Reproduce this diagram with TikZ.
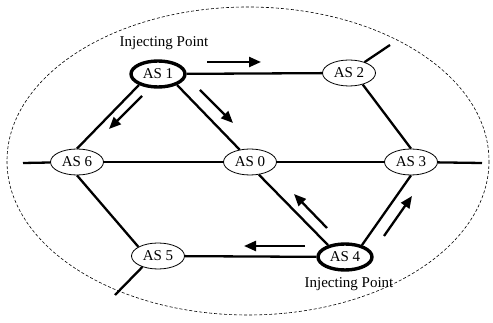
\documentclass[tikz,border=0pt]{standalone}
\usepackage{fontspec}
\setmainfont{Liberation Serif}
\usetikzlibrary{shapes.geometric,arrows.meta}

\begin{document}
\begin{tikzpicture}[x=1pt,y=-1pt,
  asnode/.style={ellipse,draw,line width=0.8pt,minimum width=53pt,minimum height=26pt,
    inner sep=0pt,font=\fontsize{15}{17}\selectfont},
  inject/.style={asnode,line width=3.4pt,minimum width=54pt,minimum height=26pt},
  link/.style={line width=2.3pt},
  flow/.style={line width=2.3pt,-{Triangle[length=12pt,width=10pt]}},
  caption/.style={font=\fontsize{15}{17}\selectfont,inner sep=0pt},
  asboundary/.style={dash pattern=on 3pt off 2pt,line width=0.6pt}
]
\useasboundingbox (0,0) rectangle (493,323);

% AS domain boundary
\draw[asboundary] (248,161) ellipse [x radius=241, y radius=154];

% autonomous systems
\node[inject] (as1) at (158,74) {AS 1};
\node[asnode] (as2) at (349,73) {AS 2};
\node[asnode] (as6) at (77,162) {AS 6};
\node[asnode] (as0) at (250,162) {AS 0};
\node[asnode] (as3) at (411,162) {AS 3};
\node[asnode] (as5) at (158,256) {AS 5};
\node[inject] (as4) at (345,257) {AS 4};

\node[caption] (ip1) at (164,43) {Injecting Point};
\node[caption] (ip4) at (349,284) {Injecting Point};

% outgoing links
\coordinate (s2) at (390,45);
\coordinate (s6) at (23,163);
\coordinate (s3) at (482,163);
\coordinate (s5) at (115,295);

% links
\draw[link] (as1) -- (as2);
\draw[link] (as1.210) -- (as6.north);
\draw[link] (as1.-30) -- (as0.130);
\draw[link] (as2.-40) -- (as3.north);
\draw[link] (as6) -- (as0);
\draw[link] (as0) -- (as3);
\draw[link] (as6.south) -- (as5.155);
\draw[link] (as0.-55) -- (as4.145);
\draw[link] (as4.35) -- (as3.south);
\draw[link] (as5) -- (as4);
\draw[link] (as2.35) -- (s2);
\draw[link] (as6) -- (s6);
\draw[link] (as3) -- (s3);
\draw[link] (as5.215) -- (s5);

% propagation direction
\coordinate (a1s) at (207,62);  \coordinate (a1e) at (261,62);
\coordinate (a2s) at (142,96);  \coordinate (a2e) at (109,129);
\coordinate (a3s) at (200,90);  \coordinate (a3e) at (233,123);
\coordinate (a4s) at (327,228); \coordinate (a4e) at (294,194);
\coordinate (a5s) at (384,236); \coordinate (a5e) at (412,196);
\coordinate (a6s) at (305,246); \coordinate (a6e) at (244,246);
\draw[flow] (a1s) -- (a1e);
\draw[flow] (a2s) -- (a2e);
\draw[flow] (a3s) -- (a3e);
\draw[flow] (a4s) -- (a4e);
\draw[flow] (a5s) -- (a5e);
\draw[flow] (a6s) -- (a6e);
\end{tikzpicture}
\end{document}
